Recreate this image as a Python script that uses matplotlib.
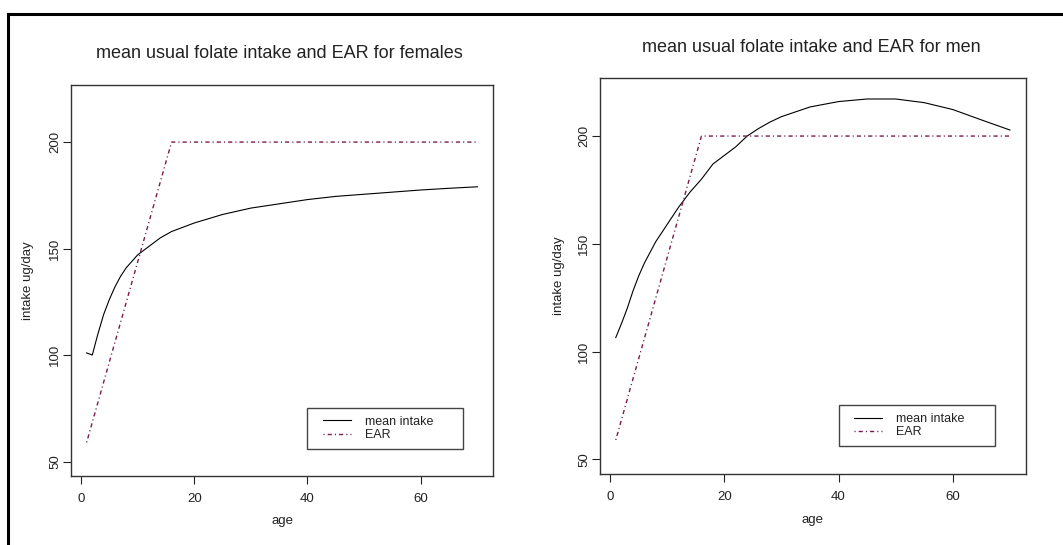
import numpy as np
import matplotlib
matplotlib.use("Agg")
import matplotlib.pyplot as plt
from matplotlib.lines import Line2D
from matplotlib.legend_handler import HandlerLine2D

plt.rcParams['font.family'] = ['Liberation Sans', 'DejaVu Sans']

# mean usual folate intake
female_age = [1, 2, 3, 4, 5, 6, 7, 8, 10, 12, 14, 16, 18, 20, 25, 30, 35, 40, 45, 50, 55, 60, 65, 70]
female_intake = [101, 100, 110, 119, 126, 132, 137, 141, 147, 151, 155, 158, 160, 162,
                 166, 169, 171, 173, 174.5, 175.5, 176.5, 177.5, 178.3, 179]

men_age = [1, 2, 3, 4, 5, 6, 8, 10, 12, 14, 16, 18, 20, 22, 24, 26, 28, 30, 35, 40, 45, 50, 55, 60, 65, 70]
men_intake = [106.5, 113, 120, 128, 135, 141, 151, 159, 167, 174, 180, 187, 191, 195, 200,
              203.5, 206.5, 209, 213.5, 216, 217.2, 217.2, 215.5, 212.3, 207.5, 202.8]

# EAR (same for both)
ear_age = [1, 16, 70]
ear = [59, 200, 200]

titles = ["mean usual folate intake and EAR for females",
          "mean usual folate intake and EAR for men"]

ear_col = '#7a1a4e'
frame_col = '#333333'
txt_col = '#222222'

fig = plt.figure(figsize=(10.63, 5.45), dpi=100)

# outer frame (runs off the right and bottom edges)
fig.add_artist(Line2D([8 / 1063, 8 / 1063], [1 - 14 / 545, -0.01], transform=fig.transFigure,
                      color='black', lw=2.2))
fig.add_artist(Line2D([8 / 1063, 1.01], [1 - 14 / 545, 1 - 14 / 545], transform=fig.transFigure,
                      color='black', lw=2.2))

ax1 = fig.add_axes([71 / 1063, 1 - 476 / 545, 422 / 1063, 391 / 545])
ax2 = fig.add_axes([600 / 1063, 1 - 474 / 545, 425.7 / 1063, 395.7 / 545])

panels = [(ax1, female_age, female_intake, (279, 53), -0.0865),
          (ax2, men_age, men_intake, (811, 47), -0.083)]

for i, (ax, age, intake, tpos, ylab_x) in enumerate(panels):
    ax.plot(age, intake, color='black', lw=0.8, label='mean intake')
    ax.plot(ear_age, ear, color=ear_col, lw=1.0, dashes=(0.8, 2.2, 3.0, 2.2), label='EAR')

    ax.set_xlim(-1.76, 72.76)
    ax.set_ylim(43.2, 226.8)
    ax.set_xticks([0, 20, 40, 60])
    ax.set_yticks([50, 100, 150, 200])
    ax.tick_params(direction='out', length=6, width=0.8, labelsize=9.5, colors=txt_col)
    ax.tick_params(axis='x', pad=6)
    ax.tick_params(axis='y', labelrotation=90, pad=1)
    for lab in ax.get_yticklabels():
        lab.set_va('center')
    for s in ax.spines.values():
        s.set_color(frame_col)
        s.set_linewidth(1.0)

    ax.set_xlabel('age', fontsize=9.5, color=txt_col)
    ax.set_ylabel('intake ug/day', fontsize=9.5, color=txt_col)
    ax.xaxis.set_label_coords(0.5, -0.1)
    ax.yaxis.set_label_coords(ylab_x, 0.5)

    fig.text(tpos[0] / 1063, 1 - tpos[1] / 545, titles[i], fontsize=13,
             ha='center', va='center', color=txt_col)

    # R-style legend: box wider than its content
    leg = ax.legend(loc='upper left', bbox_to_anchor=(40, 0, 27.4, 75), bbox_transform=ax.transData,
                    mode='expand', fontsize=9, fancybox=False, framealpha=1, edgecolor='#444444',
                    borderpad=0.6, handlelength=2.9, handletextpad=1.1, labelspacing=0.1,
                    borderaxespad=0, handler_map={Line2D: HandlerLine2D(xpad=0.65)})
    leg.get_frame().set_linewidth(1.0)
    for t in leg.get_texts():
        t.set_color(txt_col)

fig.savefig('out.png', dpi=100)
